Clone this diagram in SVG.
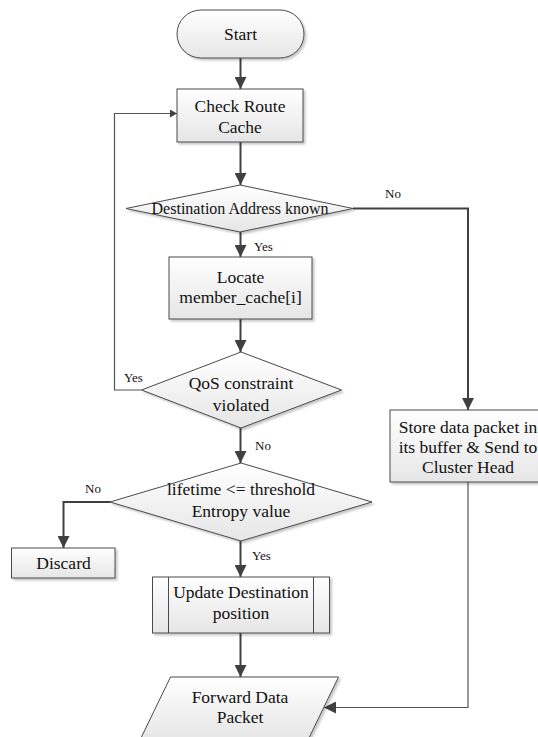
<svg xmlns="http://www.w3.org/2000/svg" width="538" height="737" viewBox="0 0 538 737">
  <defs>
    <linearGradient id="fillGrad" x1="0" y1="0" x2="0" y2="1">
      <stop offset="0" stop-color="#ffffff"/>
      <stop offset="1" stop-color="#e6e6e6"/>
    </linearGradient>
    <filter id="shadow" x="-10%" y="-10%" width="130%" height="140%">
      <feDropShadow dx="2" dy="2" stdDeviation="1" flood-color="#000" flood-opacity="0.22"/>
    </filter>
    <marker id="arrow" markerUnits="userSpaceOnUse" markerWidth="12" markerHeight="12" refX="12" refY="6" orient="auto">
      <path d="M0,0 L12,6 L0,12 z" fill="#404040"/>
    </marker>
    <marker id="arrowSmall" markerUnits="userSpaceOnUse" markerWidth="7" markerHeight="8" refX="7" refY="4" orient="auto">
      <path d="M0,0 L7,4 L0,8 z" fill="#404040"/>
    </marker>
  </defs>
  <style>
    .shape { fill: url(#fillGrad); stroke: #4a4a4a; stroke-width: 1; filter: url(#shadow); }
    .inner { fill: none; stroke: #4a4a4a; stroke-width: 1; }
    text { font-family: 'Liberation Serif', 'Times New Roman', serif; fill: #111111; }
    .txt { font-size: 17.5px; text-anchor: middle; }
    .small { font-size: 13px; }
    .flow { fill: none; stroke: #404040; stroke-width: 2; }
    .thin { fill: none; stroke: #555555; stroke-width: 1.2; }
  </style>

  <!-- connectors and their branch labels -->
  <g id="connectors">
    <line class="flow" x1="240.5" y1="58" x2="240.5" y2="89" marker-end="url(#arrow)"/>
    <line class="flow" x1="240.5" y1="142" x2="240.5" y2="185" marker-end="url(#arrow)"/>
    <line class="flow" x1="240.5" y1="232" x2="240.5" y2="257" marker-end="url(#arrow)"/>
    <polyline class="flow" points="353,208.5 468,208.5 468,410" marker-end="url(#arrow)"/>
    <line class="flow" x1="240.5" y1="319" x2="240.5" y2="352" marker-end="url(#arrow)"/>
    <polyline class="thin" points="141.5,390 114.5,390 114.5,113.5 177,113.5" marker-end="url(#arrowSmall)"/>
    <line class="flow" x1="240.5" y1="428" x2="240.5" y2="463" marker-end="url(#arrow)"/>
    <polyline class="flow" points="110,502 63.5,502 63.5,548" marker-end="url(#arrow)"/>
    <line class="flow" x1="240.5" y1="541" x2="240.5" y2="577" marker-end="url(#arrow)"/>
    <line class="flow" x1="240.5" y1="633" x2="240.5" y2="677" marker-end="url(#arrow)"/>
    <polyline class="thin" points="468,482 468,707.5 324,707.5" marker-end="url(#arrow)"/>

    <text class="small" x="385" y="198">No</text>
    <text class="small" x="254" y="251">Yes</text>
    <text class="small" x="124" y="382">Yes</text>
    <text class="small" x="255" y="450">No</text>
    <text class="small" x="85" y="493">No</text>
    <text class="small" x="252" y="560">Yes</text>
  </g>

  <g id="start">
    <rect class="shape" x="177" y="10" width="127" height="48" rx="24" ry="24"/>
    <text class="txt" x="240.5" y="40">Start</text>
  </g>

  <g id="check-route-cache">
    <rect class="shape" x="177" y="89" width="126" height="53"/>
    <text class="txt" x="240" y="112">Check Route</text>
    <text class="txt" x="240" y="133">Cache</text>
  </g>

  <g id="destination-known">
    <polygon class="shape" points="240,185 353,208.5 240,232 126,208.5"/>
    <text class="txt" x="240" y="213.5" style="font-size:16px">Destination Address known</text>
  </g>

  <g id="locate-member">
    <rect class="shape" x="169" y="257" width="143" height="62"/>
    <text class="txt" x="240.5" y="283">Locate</text>
    <text class="txt" x="240.5" y="303">member_cache[i]</text>
  </g>

  <g id="qos-violated">
    <polygon class="shape" points="241,352 341.5,390 241,428 141.5,390"/>
    <text class="txt" x="241" y="389">QoS constraint</text>
    <text class="txt" x="241" y="411">violated</text>
  </g>

  <g id="store-packet">
    <rect class="shape" x="390" y="410" width="156" height="72"/>
    <text class="txt" x="468" y="433">Store data packet in</text>
    <text class="txt" x="468" y="453">its buffer &amp; Send to</text>
    <text class="txt" x="468" y="473">Cluster Head</text>
  </g>

  <g id="lifetime-check">
    <polygon class="shape" points="241,463 372,502 241,541 110,502"/>
    <text class="txt" x="241" y="495">lifetime &lt;= threshold</text>
    <text class="txt" x="241" y="517">Entropy value</text>
  </g>

  <g id="discard">
    <rect class="shape" x="11.5" y="548" width="103.5" height="30"/>
    <text class="txt" x="63.5" y="569">Discard</text>
  </g>

  <g id="update-destination">
    <rect class="shape" x="152.5" y="577" width="177" height="56"/>
    <line class="inner" x1="168.5" y1="577" x2="168.5" y2="633"/>
    <line class="inner" x1="313.5" y1="577" x2="313.5" y2="633"/>
    <text class="txt" x="241" y="598">Update Destination</text>
    <text class="txt" x="241" y="619">position</text>
  </g>

  <g id="forward-packet">
    <polygon class="shape" points="170.5,677 338.5,677 308,740 140,740"/>
    <text class="txt" x="240" y="703">Forward Data</text>
    <text class="txt" x="240" y="723">Packet</text>
  </g>
</svg>
